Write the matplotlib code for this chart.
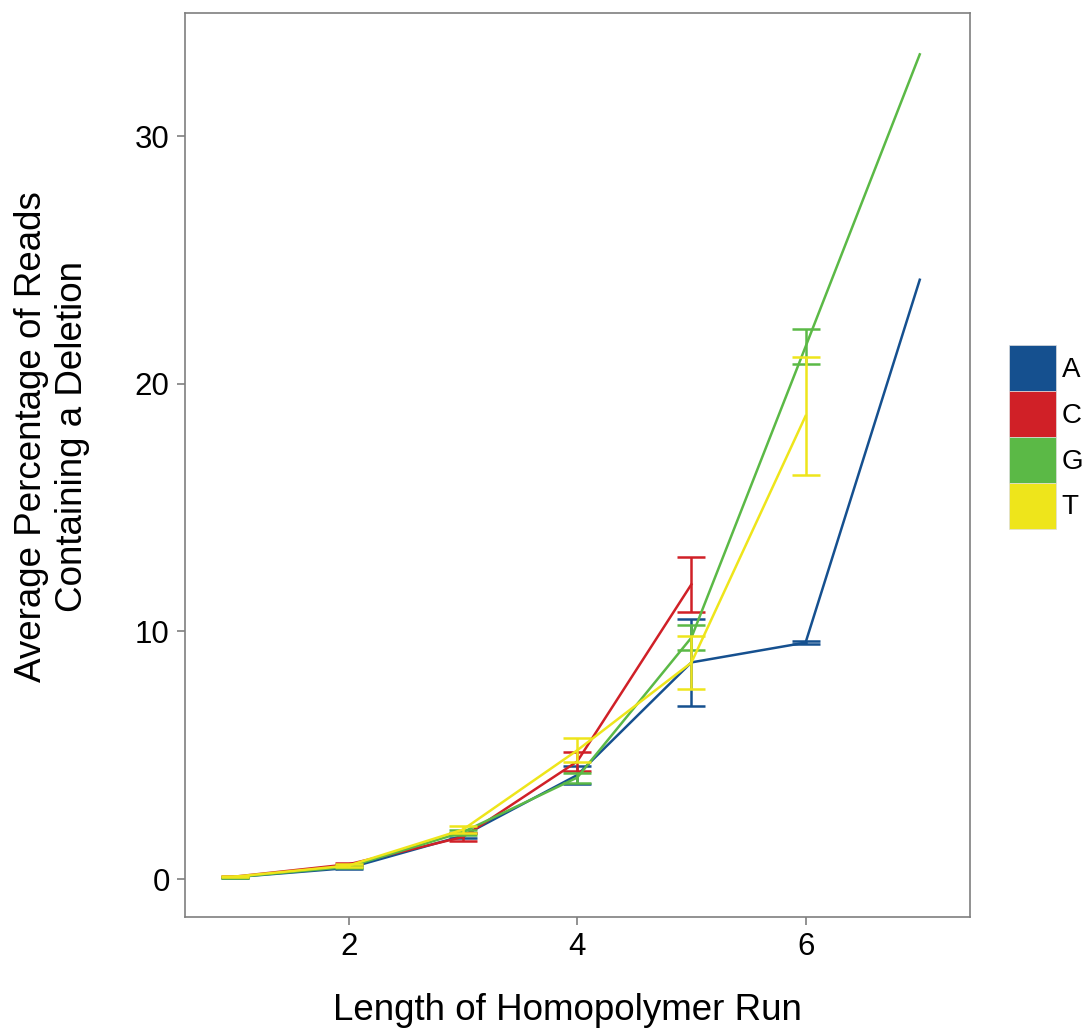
import numpy as np
import matplotlib.pyplot as plt
from matplotlib.patches import Patch

plt.rcParams['font.family'] = ['Liberation Sans', 'DejaVu Sans']

# homopolymer run length
runLength = [1, 2, 3, 4, 5, 6, 7]

# mean percentage of reads with a deletion, per base
meanA = [0.08, 0.45, 1.75, 4.2, 8.75, 9.55, 24.2]
meanC = [0.1, 0.6, 1.7, 4.75, 11.9]
meanG = [0.08, 0.5, 1.9, 4.1, 9.75, 21.5, 33.3]
meanT = [0.1, 0.55, 2.0, 5.2, 8.74, 18.7]

# half-width of the error bars
errA = [0.02, 0.05, 0.1, 0.38, 1.75, 0.05]
errC = [0.02, 0.05, 0.15, 0.4, 1.1]
errG = [0.02, 0.05, 0.1, 0.2, 0.5, 0.72]
errT = [0.02, 0.05, 0.15, 0.48, 1.07, 2.4]

bases = ['A', 'C', 'G', 'T']
colors = ['#15508F', '#D02027', '#5BB946', '#EEE51B']

series = [(meanA, errA), (meanC, errC), (meanG, errG), (meanT, errT)]

fig = plt.figure(figsize=(10.85, 10.3), dpi=100)
ax = fig.add_axes([185/1085, 1 - 917/1030, 785/1085, 904/1030])

for (mean, err), col in zip(series, colors):
  x = runLength[:len(mean)]
  ax.plot(x, mean, color=col, lw=1.8, zorder=2)
  xe = runLength[:len(err)]
  ax.errorbar(xe, mean[:len(err)], yerr=err, fmt='none', ecolor=col,
              elinewidth=1.8, capsize=10, capthick=1.8, zorder=2)

ax.set_xlim(0.565, 7.44)
ax.set_ylim(-1.53, 34.97)
ax.set_xticks([2, 4, 6])
ax.set_yticks([0, 10, 20, 30])

for s in ax.spines.values():
  s.set_color('#7f7f7f')
  s.set_linewidth(1.2)
ax.tick_params(direction='out', length=6, width=1.2, color='#7f7f7f',
               labelsize=22.5, labelcolor='black', pad=5)

fig.text(567/1085, 1 - 1010/1030, 'Length of Homopolymer Run', fontsize=26.5,
         ha='center', va='center')
fig.text(52/1085, 1 - 437/1030, 'Average Percentage of Reads\nContaining a Deletion',
         fontsize=26.5, rotation=90, ha='center', va='center', multialignment='center')

handles = [Patch(facecolor=c, edgecolor='#dddddd', linewidth=0.5) for c in colors]
fig.legend(handles, bases, loc='center left',
           bbox_to_anchor=(1009/1085, 1 - 437/1030), frameon=False,
           fontsize=20, handlelength=1.7, handleheight=2.16,
           labelspacing=0.0, handletextpad=0.2, borderpad=0, borderaxespad=0)

fig.savefig('out.png', dpi=100)
